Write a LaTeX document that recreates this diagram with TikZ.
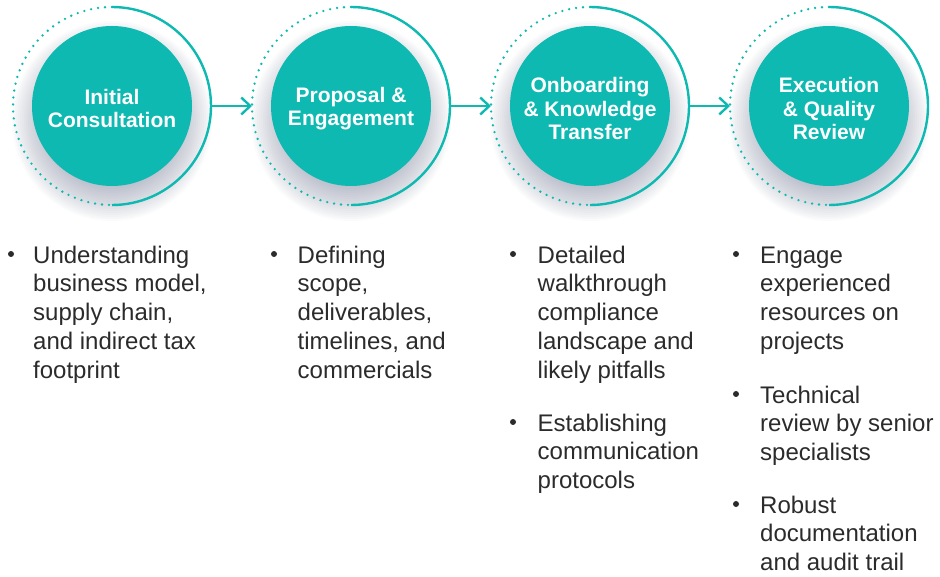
\documentclass[tikz,border=0pt]{standalone}
\usepackage{fontspec}
\setmainfont{Liberation Sans}
\usetikzlibrary{arrows.meta}
\definecolor{teal1}{HTML}{0DB9B1}
\definecolor{txt}{HTML}{2B2B2B}
\definecolor{shc}{HTML}{56607F}
\begin{document}
\begin{tikzpicture}[x=1pt,y=1pt,
  ring/.style={circle,minimum size=198pt,inner sep=0pt,outer sep=0pt},
  disc/.style={circle,fill=teal1,minimum size=160pt,inner sep=0pt,text=white,
    font=\bfseries\fontsize{21}{23.5}\selectfont,align=center},
  shadowlayer/.style={fill=shc,fill opacity=0.028},
  solidarc/.style={draw=teal1,line width=2.4pt},
  dotarc/.style={draw=teal1,line width=2.6pt,line cap=round,dash pattern=on 0pt off 7pt},
  flow/.style={draw=teal1,line width=2.4pt,-{Straight Barb[length=9pt,width=17pt]}},
  bulletdot/.style={circle,fill=txt,inner sep=0pt,minimum size=6pt},
  itemtext/.style={anchor=north west,inner sep=0pt,align=left,text=txt,
    font=\fontsize{24}{28.75}\selectfont}
]
\useasboundingbox (0,0) rectangle (940,576);

% soft shadows (stacked translucent discs)
\foreach \cx in {112,351,590,829} {
  \foreach \k in {0,...,19} {
    \fill[shadowlayer] (\cx,455) circle ({62+2*\k});
  }
}

% rings and discs
\node[ring] (r1) at (112,470) {};
\node[ring] (r2) at (351,470) {};
\node[ring] (r3) at (590,470) {};
\node[ring] (r4) at (829,470) {};

\foreach \r in {r1,r2,r3,r4} {
  \draw[dotarc] (\r.north) arc[start angle=90,end angle=270,radius=99];
  \draw[solidarc] (\r.north) arc[start angle=90,end angle=-90,radius=99];
}

\node[disc] (c1) at (112,470) {};
\node[disc] (c2) at (351,470) {};
\node[disc] (c3) at (590,470) {};
\node[disc] (c4) at (829,470) {};
\node[disc,fill=none,minimum size=0pt] (l1) at ([yshift=-2.5pt]c1.center) {Initial\\Consultation};
\node[disc,fill=none,minimum size=0pt] (l2) at ([yshift=-2.5pt]c2.center) {Proposal \&\\Engagement};
\node[disc,fill=none,minimum size=0pt] (l3) at ([yshift=-2.5pt]c3.center) {Onboarding\\\& Knowledge\\Transfer};
\node[disc,fill=none,minimum size=0pt] (l4) at ([yshift=-2.5pt]c4.center) {Execution\\\& Quality\\Review};

% connectors
\draw[flow] (r1.east) -- (r2.west);
\draw[flow] (r2.east) -- (r3.west);
\draw[flow] (r3.east) -- (r4.west);

% column 1
\node[bulletdot] (b11) at (11,322) {};
\node[itemtext] (t11) at (33,333.1) {\strut Understanding\\business model,\\supply chain,\\and indirect tax\\footprint};

% column 2
\node[bulletdot] (b21) at (274,322) {};
\node[itemtext] (t21) at (297.5,333.1) {\strut Defining\\scope,\\deliverables,\\timelines, and\\commercials};

% column 3
\node[bulletdot] (b31) at (513,322) {};
\node[itemtext] (t31) at (537.5,333.1) {\strut Detailed\\walkthrough\\compliance\\landscape and\\likely pitfalls};
\node[bulletdot] (b32) at (513,154) {};
\node[itemtext] (t32) at (537.5,165.1) {\strut Establishing\\communication\\protocols};

% column 4
\node[bulletdot] (b41) at (736,322) {};
\node[itemtext] (t41) at (760,333.1) {\strut Engage\\experienced\\resources on\\projects};
\node[bulletdot] (b42) at (736,182) {};
\node[itemtext] (t42) at (760,193.1) {\strut Technical\\review by senior\\specialists};
\node[bulletdot] (b43) at (736,72) {};
\node[itemtext] (t43) at (760,83.1) {\strut Robust\\documentation\\and audit trail};
\end{tikzpicture}
\end{document}
